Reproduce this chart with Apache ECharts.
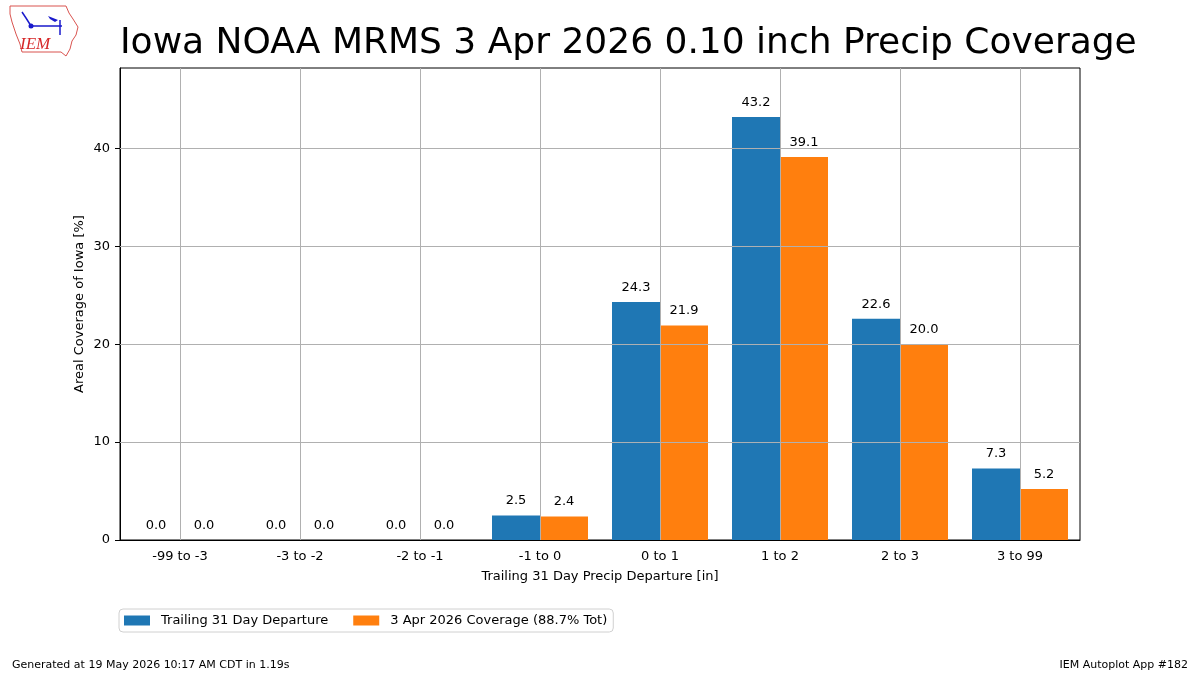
<!DOCTYPE html>
<html>
<head>
<meta charset="utf-8">
<title>Iowa NOAA MRMS Precip Coverage</title>
<script src="https://cdn.jsdelivr.net/npm/echarts@6/dist/echarts.min.js"></script>
<style>
    html, body { margin: 0; padding: 0; background: #fff; }
    #main { width: 1200px; height: 675px; }
</style>
</head>
<body>
<div id="main"></div>
<script>
    /*数据*/
    var categories = ['-99 to -3', '-3 to -2', '-2 to -1', '-1 to 0', '0 to 1', '1 to 2', '2 to 3', '3 to 99'];
    var departureValues = [0.0, 0.0, 0.0, 2.5, 24.3, 43.2, 22.6, 7.3];
    var coverageValues = [0.0, 0.0, 0.0, 2.4, 21.9, 39.1, 20.0, 5.2];
    var yTicks = [0, 10, 20, 30, 40];
    var yGridValues = [10, 20, 30, 40];
    var seriesNames = ['Trailing 31 Day Departure', '3 Apr 2026 Coverage (88.7% Tot)'];

    var FONT = 'DejaVu Sans';

    //网格线画在柱子上面 (matplotlib 默认)
    var gridLines = [];
    for (var i = 0; i < categories.length; i++) {
        gridLines.push({xAxis: categories[i]});
    }
    for (var j = 0; j < yGridValues.length; j++) {
        gridLines.push({yAxis: yGridValues[j]});
    }

    var barLabel = {
        show: true,
        position: 'top',
        distance: 8,
        color: '#000',
        fontFamily: FONT,
        fontSize: 13,
        formatter: function (p) {
            return p.value.toFixed(1);
        }
    };

    //Iowa 轮廓 logo
    var iowaOutline = [[10, 6], [66, 6], [69, 13], [73, 19], [78, 27], [76, 35], [72, 41], [70, 49],
        [66, 56], [61, 52], [22, 52], [20, 44], [16, 34], [12, 22], [10, 14]];

    var option = {
        animation: false,
        color: ['#1f77b4', '#ff7f0e'],
        grid: {
            left: 120,
            right: 120,
            top: 68,
            bottom: 135,
            show: true,
            borderColor: '#000',
            borderWidth: 1,
            backgroundColor: '#fff'
        },
        legend: {
            left: 119,
            top: 609,
            orient: 'horizontal',
            icon: 'rect',
            itemWidth: 26,
            itemHeight: 10,
            itemGap: 25,
            padding: [5, 6, 5, 5],
            borderColor: '#d0d0d0',
            borderWidth: 1,
            borderRadius: 4,
            data: seriesNames,
            textStyle: {
                color: '#000',
                fontFamily: FONT,
                fontSize: 13,
                padding: [0, 0, 0, 6]
            }
        },
        xAxis: {
            type: 'category',
            data: categories,
            name: 'Trailing 31 Day Precip Departure [in]',
            nameLocation: 'middle',
            nameGap: 30,
            nameTextStyle: {color: '#000', fontFamily: FONT, fontSize: 13},
            axisLine: {lineStyle: {color: '#000', width: 1}},
            axisTick: {alignWithLabel: true, length: 5, lineStyle: {color: '#000'}},
            axisLabel: {color: '#000', fontFamily: FONT, fontSize: 13, margin: 10},
            splitLine: {show: false}
        },
        yAxis: {
            type: 'value',
            min: 0,
            max: 48.2,
            name: 'Areal Coverage of Iowa [%]',
            nameLocation: 'middle',
            nameGap: 34,
            nameMoveOverlap: false,
            nameTextStyle: {color: '#000', fontFamily: FONT, fontSize: 13},
            axisLine: {show: true, lineStyle: {color: '#000', width: 1}},
            axisTick: {show: true, length: 5, customValues: yTicks, lineStyle: {color: '#000'}},
            axisLabel: {color: '#000', fontFamily: FONT, fontSize: 13, margin: 10, customValues: yTicks},
            splitLine: {show: false}
        },
        series: [
            {
                name: seriesNames[0],
                type: 'bar',
                data: departureValues,
                barCategoryGap: '20%',
                barGap: '0%',
                label: barLabel
            },
            {
                name: seriesNames[1],
                type: 'bar',
                data: coverageValues,
                barCategoryGap: '20%',
                barGap: '0%',
                label: barLabel
            },
            {
                //只用来画网格线
                name: 'grid',
                type: 'line',
                data: [],
                silent: true,
                markLine: {
                    silent: true,
                    symbol: ['none', 'none'],
                    label: {show: false},
                    lineStyle: {color: '#b0b0b0', width: 1, type: 'solid'},
                    emphasis: {disabled: true},
                    data: gridLines
                }
            }
        ],
        graphic: [
            {
                type: 'text',
                left: 120,
                top: 26,
                style: {
                    text: 'Iowa NOAA MRMS 3 Apr 2026 0.10 inch Precip Coverage',
                    fill: '#000',
                    font: '36px "DejaVu Sans"'
                }
            },
            {
                type: 'text',
                left: 12,
                top: 660,
                style: {
                    text: 'Generated at 19 May 2026 10:17 AM CDT in 1.19s',
                    fill: '#000',
                    font: '11px "DejaVu Sans"'
                }
            },
            {
                type: 'text',
                right: 12,
                top: 660,
                style: {
                    text: 'IEM Autoplot App #182',
                    fill: '#000',
                    font: '11px "DejaVu Sans"'
                }
            },
            //logo
            {
                type: 'group',
                x: 0,
                y: 0,
                children: [
                    {
                        type: 'polygon',
                        shape: {points: iowaOutline},
                        style: {fill: '#fff', stroke: '#d9534f', lineWidth: 1}
                    },
                    {
                        type: 'polyline',
                        shape: {points: [[22, 12], [26, 18], [31, 26], [62, 26]]},
                        style: {stroke: '#1a1acc', lineWidth: 1.5, fill: null}
                    },
                    {
                        type: 'circle',
                        shape: {cx: 31, cy: 26, r: 2.5},
                        style: {fill: '#1a1acc'}
                    },
                    {
                        type: 'polygon',
                        shape: {points: [[48, 16], [58, 20], [55, 22], [50, 19]]},
                        style: {fill: '#1a1acc'}
                    },
                    {
                        type: 'polyline',
                        shape: {points: [[60, 20], [60, 35]]},
                        style: {stroke: '#1a1acc', lineWidth: 1.5, fill: null}
                    },
                    {
                        type: 'text',
                        style: {
                            x: 20,
                            y: 36,
                            text: 'IEM',
                            fill: '#d62728',
                            verticalAlign: 'top',
                            font: 'italic 17px "Liberation Serif"'
                        }
                    }
                ]
            }
        ]
    };

    var chart = echarts.init(document.getElementById('main'));
    chart.setOption(option);
</script>
</body>
</html>
